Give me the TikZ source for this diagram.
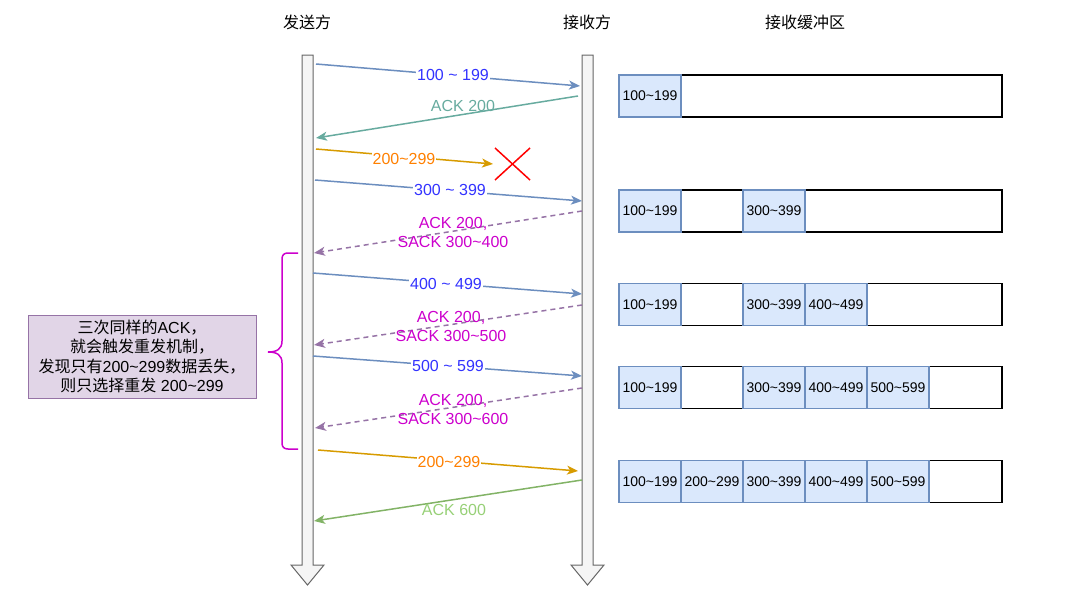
\documentclass[tikz,border=0pt]{standalone}
\usepackage{fontspec}
\setmainfont{Liberation Sans}
\newfontfamily\cjk{Noto Sans CJK SC}
\usetikzlibrary{arrows.meta}
\definecolor{lifefill}{HTML}{F5F5F5}
\definecolor{lifedraw}{HTML}{666666}
\definecolor{bluel}{HTML}{6C8EBF}
\definecolor{bluet}{HTML}{3333FF}
\definecolor{tealc}{HTML}{67AB9F}
\definecolor{orangel}{HTML}{D79B00}
\definecolor{oranget}{HTML}{FF8000}
\definecolor{purplel}{HTML}{9673A6}
\definecolor{magentat}{HTML}{CC00CC}
\definecolor{greenl}{HTML}{82B366}
\definecolor{greent}{HTML}{97D077}
\definecolor{cellfill}{HTML}{DAE8FC}
\definecolor{notefill}{HTML}{E1D5E7}
\begin{document}
\begin{tikzpicture}[x=1pt,y=-1pt,
  lifeline/.style={fill=lifefill,draw=lifedraw,line width=1pt},
  msg/.style={line width=1.5pt,-{Stealth[length=11pt,width=9pt,inset=3pt]}},
  dmsg/.style={msg,dash pattern=on 5pt off 4pt},
  lbl/.style={font=\fontsize{16}{19}\selectfont,inner sep=1pt,align=center},
  bglbl/.style={lbl,fill=white},
  title/.style={font=\fontsize{16}{19}\selectfont\cjk},
  cell/.style={draw=bluel,fill=cellfill,line width=1.2pt,minimum width=62pt,minimum height=42pt,inner sep=0pt,font=\fontsize{14}{16}\selectfont},
  buf/.style={draw=black,line width=1.6pt,fill=white,minimum width=383pt,minimum height=42pt,inner sep=0pt},
  note/.style={fill=notefill,draw=purplel,line width=1pt,minimum width=228pt,minimum height=83pt,align=center,font=\fontsize{16}{19.5}\selectfont}
]
\useasboundingbox (0,0) rectangle (1081,589);

% titles
\node[title] (tS) at (307,22) {发送方};
\node[title] (tR) at (587,22) {接收方};
\node[title] (tB) at (805,22) {接收缓冲区};

% lifelines
\draw[lifeline] (302,55) -- (313,55) -- (313,565) -- (324,565) -- (307.5,585) -- (291,565) -- (302,565) -- cycle;
\draw[lifeline] (582,55) -- (593,55) -- (593,565) -- (604,565) -- (587.5,585) -- (571,565) -- (582,565) -- cycle;

% endpoints
\coordinate (m1s) at (316,64);  \coordinate (m1e) at (580,86);
\coordinate (m2s) at (578,96);  \coordinate (m2e) at (316,138);
\coordinate (m3s) at (316,149); \coordinate (m3e) at (493,164);
\coordinate (m4s) at (315,180); \coordinate (m4e) at (582,201);
\coordinate (m5s) at (582,211); \coordinate (m5e) at (314,253);
\coordinate (m6s) at (313,273); \coordinate (m6e) at (582,294);
\coordinate (m7s) at (582,305); \coordinate (m7e) at (314,345);
\coordinate (m8s) at (313,356); \coordinate (m8e) at (582,376);
\coordinate (m9s) at (582,388); \coordinate (m9e) at (315,428);
\coordinate (m10s) at (318,450); \coordinate (m10e) at (578,471);
\coordinate (m11s) at (582,480); \coordinate (m11e) at (314,521);

% messages
\draw[msg,bluel] (m1s) -- (m1e);
\draw[msg,tealc] (m2s) -- (m2e);
\draw[msg,orangel] (m3s) -- (m3e);
\draw[msg,bluel] (m4s) -- (m4e);
\draw[dmsg,purplel] (m5s) -- (m5e);
\draw[msg,bluel] (m6s) -- (m6e);
\draw[dmsg,purplel] (m7s) -- (m7e);
\draw[msg,bluel] (m8s) -- (m8e);
\draw[dmsg,purplel] (m9s) -- (m9e);
\draw[msg,orangel] (m10s) -- (m10e);
\draw[msg,greenl] (m11s) -- (m11e);

% labels
\node[bglbl,text=bluet] (l1) at (453,75) {100 \textasciitilde{} 199};
\node[lbl,text=tealc] (l2) at (463,106) {ACK 200};
\node[bglbl,text=oranget] (l3) at (404,159) {200\textasciitilde{}299};
\node[bglbl,text=bluet] (l4) at (450,190) {300 \textasciitilde{} 399};
\node[lbl,text=magentat] (l5) at (453,232.5) {ACK 200,\\SACK 300\textasciitilde{}400};
\node[bglbl,text=bluet] (l6) at (446,284) {400 \textasciitilde{} 499};
\node[lbl,text=magentat] (l7) at (451,326.5) {ACK 200,\\SACK 300\textasciitilde{}500};
\node[bglbl,text=bluet] (l8) at (448,366) {500 \textasciitilde{} 599};
\node[lbl,text=magentat] (l9) at (453,409.5) {ACK 200,\\SACK 300\textasciitilde{}600};
\node[bglbl,text=oranget] (l10) at (449,462) {200\textasciitilde{}299};
\node[lbl,text=greent] (l11) at (454,510) {ACK 600};

% lost packet cross
\draw[red,line width=1.5pt] (495,148) -- (530,180) (530,148) -- (495,180);

% brace
\draw[magentat,line width=1.5pt] (298,253) -- (288,253) .. controls (284,253) and (282,255) .. (282,259)
  -- (282,341) .. controls (282,349) and (277,352) .. (268,352)
  .. controls (277,352) and (282,355) .. (282,363)
  -- (282,443) .. controls (282,447) and (284,449) .. (288,449) -- (298,449);

% note
\node[note] (nt) at (142,356.5) {{\cjk 三次同样的}ACK{\cjk ，}\\{\cjk 就会触发重发机制，}\\{\cjk 发现只有}200\textasciitilde{}299{\cjk 数据丢失，}\\{\cjk 则只选择重发} 200\textasciitilde{}299};

% buffers
\node[buf] (b1) at (810.5,96) {};
\node[cell] (c11) at (650,96) {100\textasciitilde{}199};

\node[buf] (b2) at (810.5,211) {};
\node[cell] (c21) at (650,211) {100\textasciitilde{}199};
\node[cell] (c23) at (774,211) {300\textasciitilde{}399};

\node[buf] (b3) at (810.5,304.5) {};
\node[cell] (c31) at (650,304.5) {100\textasciitilde{}199};
\node[cell] (c33) at (774,304.5) {300\textasciitilde{}399};
\node[cell] (c34) at (836,304.5) {400\textasciitilde{}499};

\node[buf] (b4) at (810.5,387.5) {};
\node[cell] (c41) at (650,387.5) {100\textasciitilde{}199};
\node[cell] (c43) at (774,387.5) {300\textasciitilde{}399};
\node[cell] (c44) at (836,387.5) {400\textasciitilde{}499};
\node[cell] (c45) at (898,387.5) {500\textasciitilde{}599};

\node[buf] (b5) at (810.5,481.5) {};
\node[cell] (c51) at (650,481.5) {100\textasciitilde{}199};
\node[cell] (c52) at (712,481.5) {200\textasciitilde{}299};
\node[cell] (c53) at (774,481.5) {300\textasciitilde{}399};
\node[cell] (c54) at (836,481.5) {400\textasciitilde{}499};
\node[cell] (c55) at (898,481.5) {500\textasciitilde{}599};
\end{tikzpicture}
\end{document}
